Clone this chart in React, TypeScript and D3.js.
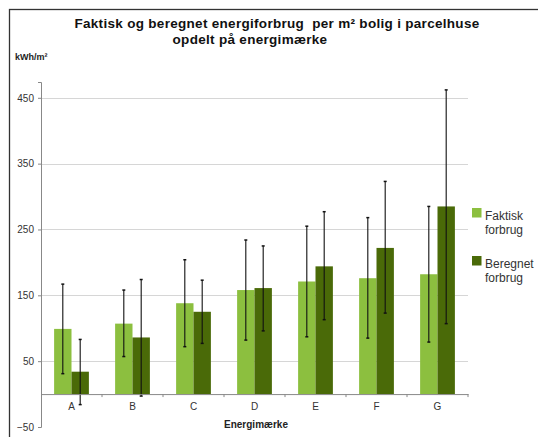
import React, { useEffect, useRef } from 'react';
import * as d3 from 'd3';

const categories = ['A', 'B', 'C', 'D', 'E', 'F', 'G'];
const seriesNames = ['Faktisk forbrug', 'Beregnet forbrug'];
const faktisk = [99, 107, 138, 158, 171, 176, 182];
const faktiskLow = [31, 57, 72, 82, 87, 85, 79];
const faktiskHigh = [167, 158, 204, 234, 255, 268, 285];
const beregnet = [34, 86, 125, 161, 194, 222, 285];
const beregnetLow = [-16, -3, 77, 96, 113, 123, 107];
const beregnetHigh = [83, 174, 173, 225, 277, 323, 462];
const yTicks = [-50, 50, 150, 250, 350, 450];
const colors = ['#8cbf3f', '#4a6a08'];

const App: React.FC = () => {
  const ref = useRef<SVGSVGElement>(null);

  useEffect(() => {
    if (!ref.current) return;
    const svg = d3.select(ref.current);
    svg.selectAll('*').remove();

    const font = 'Liberation Sans, Arial, sans-serif';
    const left = 41, right = 468, top = 82, bottom = 427;

    // frame
    svg.append('rect')
      .attr('x', 9.5).attr('y', 9.5)
      .attr('width', 560).attr('height', 460)
      .attr('fill', 'none').attr('stroke', '#333').attr('stroke-width', 1.3);

    const y = d3.scaleLinear().domain([-50, 474]).range([bottom, top]);
    const x = d3.scaleBand().domain(categories).range([left, right])
      .paddingInner(0.43).paddingOuter(0.215);
    const xs = d3.scaleBand().domain(seriesNames).range([0, x.bandwidth()]);
    const xAxisBand = d3.scaleBand().domain(categories).range([left, right]);

    // grid
    svg.append('g').selectAll('line')
      .data(yTicks.filter(t => t > 0))
      .enter().append('line')
      .attr('x1', left).attr('x2', right)
      .attr('y1', d => Math.round(y(d)) + 0.5).attr('y2', d => Math.round(y(d)) + 0.5)
      .attr('stroke', '#d6d6d6').attr('stroke-width', 1.2);

    // y axis
    const yAxis = svg.append('g')
      .attr('transform', `translate(${left},0)`)
      .call(d3.axisLeft(y).tickValues(yTicks).tickSize(3).tickPadding(4));
    yAxis.select('.domain').attr('stroke', '#888');
    yAxis.selectAll('.tick line').attr('stroke', '#888');
    yAxis.selectAll('text').attr('font-family', font).attr('font-size', 10).attr('fill', '#333');

    const data = categories.map((c, i) => ({
      c,
      vals: [
        { s: seriesNames[0], v: faktisk[i], lo: faktiskLow[i], hi: faktiskHigh[i], col: colors[0] },
        { s: seriesNames[1], v: beregnet[i], lo: beregnetLow[i], hi: beregnetHigh[i], col: colors[1] },
      ],
    }));

    const groups = svg.append('g').selectAll('g')
      .data(data).enter().append('g')
      .attr('transform', d => `translate(${x(d.c)},0)`);

    groups.selectAll('rect')
      .data(d => d.vals).enter().append('rect')
      .attr('x', d => xs(d.s) ?? 0)
      .attr('width', xs.bandwidth())
      .attr('y', d => y(d.v))
      .attr('height', d => y(0) - y(d.v))
      .attr('fill', d => d.col);

    // x axis
    const xAxis = svg.append('g')
      .attr('transform', `translate(0,${y(0)})`)
      .call(d3.axisBottom(xAxisBand).tickSize(0).tickPadding(9));
    xAxis.select('.domain').attr('stroke', '#888');
    xAxis.selectAll('text').attr('font-family', font).attr('font-size', 10).attr('fill', '#333');
    xAxis.selectAll('line.sep')
      .data(categories.slice(1).concat(['end']))
      .enter().append('line')
      .attr('x1', (d, i) => left + (i + 1) * xAxisBand.step())
      .attr('x2', (d, i) => left + (i + 1) * xAxisBand.step())
      .attr('y1', 0).attr('y2', 3).attr('stroke', '#888');

    // error bars
    const err = groups.selectAll('g.err')
      .data(d => d.vals).enter().append('g')
      .attr('transform', d => `translate(${(xs(d.s) ?? 0) + xs.bandwidth() / 2},0)`);
    err.append('line')
      .attr('y1', d => y(d.lo)).attr('y2', d => y(d.hi))
      .attr('stroke', '#111').attr('stroke-width', 1.1);
    err.append('line')
      .attr('x1', -1.5).attr('x2', 1.5)
      .attr('y1', d => y(d.hi)).attr('y2', d => y(d.hi))
      .attr('stroke', '#111').attr('stroke-width', 1.5);
    err.append('line')
      .attr('x1', -1.5).attr('x2', 1.5)
      .attr('y1', d => y(d.lo)).attr('y2', d => y(d.lo))
      .attr('stroke', '#111').attr('stroke-width', 1.5);

    // title
    const title = svg.append('text')
      .attr('text-anchor', 'middle')
      .attr('font-family', font).attr('font-size', 13.5).attr('font-weight', 'bold').attr('fill', '#111')
      .attr('letter-spacing', 0.3)
      .attr('xml:space', 'preserve');
    title.append('tspan').attr('x', 277).attr('y', 28)
      .text('Faktisk og beregnet energiforbrug  per m² bolig i parcelhuse');
    title.append('tspan').attr('x', 250).attr('y', 44)
      .text('opdelt på energimærke');

    svg.append('text')
      .attr('x', 15).attr('y', 60)
      .attr('font-family', font).attr('font-size', 9).attr('font-weight', 'bold').attr('fill', '#222')
      .text('kWh/m²');
    svg.append('text')
      .attr('x', 256).attr('y', 428).attr('text-anchor', 'middle')
      .attr('font-family', font).attr('font-size', 10).attr('font-weight', 'bold').attr('fill', '#222')
      .text('Energimærke');

    // legend
    const legend = svg.append('g').selectAll('g')
      .data(seriesNames).enter().append('g')
      .attr('transform', (d, i) => `translate(472,${208 + i * 48})`);
    legend.append('rect')
      .attr('width', 9.5).attr('height', 9.5)
      .attr('fill', (d, i) => colors[i]);
    const lt = legend.append('text')
      .attr('font-family', font).attr('font-size', 12).attr('fill', '#333');
    lt.append('tspan').attr('x', 13).attr('y', 12).text(d => d.split(' ')[0]);
    lt.append('tspan').attr('x', 13).attr('y', 26).text(d => d.split(' ')[1]);
  }, []);

  return (
    <svg ref={ref} width={538} height={437}
      style={{ position: 'absolute', left: 0, top: 0, background: '#fff' }} />
  );
};

export default App;
